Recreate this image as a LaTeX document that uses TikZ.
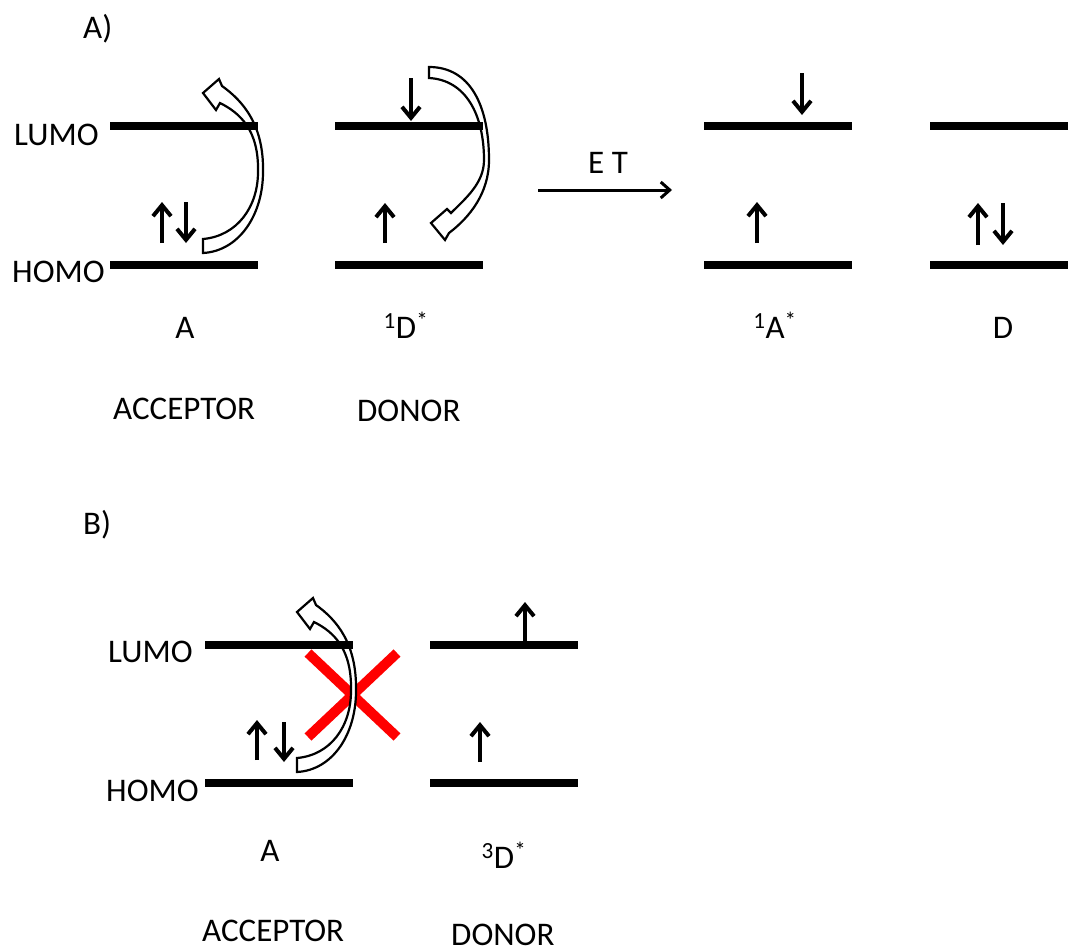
\documentclass[tikz,border=0pt]{standalone}
\usepackage{fontspec}
\setmainfont{Carlito}
\usetikzlibrary{arrows.meta}
\begin{document}
\begin{tikzpicture}[x=1pt,y=-1pt,
  level/.style={line width=8pt},
  spin/.style={line width=4pt,-{Straight Barb[length=11pt,width=18pt]}},
  hop/.style={draw=black,fill=white,line width=2.2pt,line join=miter,miter limit=8},
  lbl/.style={inner sep=0pt,font=\fontsize{33}{40}\selectfont},
  cross/.style={draw=red,line width=10pt},
  transfer/.style={line width=3pt,-{Straight Barb[length=9pt,width=16pt]}}]
\useasboundingbox (0,0) rectangle (1068,951);

% ---------- A) singlet energy transfer ----------
% electron hop inside the acceptor (HOMO -> LUMO)
\path[hop] (203,253) .. controls (239,251) and (263,215) .. (263,172)
  .. controls (264,125) and (243,101) .. (222,86)
  -- (219,79) -- (203,93) -- (216,110) -- (220,103)
  .. controls (240,113) and (259,130) .. (258,172)
  .. controls (258,207) and (237,236) .. (203,239) -- cycle;
% electron hop inside the donor (LUMO -> HOMO)
\path[hop] (429,67) .. controls (470,67) and (489,105) .. (489,160)
  .. controls (489,193) and (470,217) .. (449,233)
  -- (445,240) -- (431,223) -- (447,209) -- (451,213)
  .. controls (466,198) and (484,183) .. (484,160)
  .. controls (484,115) and (466,80) .. (429,78) -- cycle;

% frontier orbital levels
\draw[level] (110,126) -- (258,126);
\draw[level] (110,265) -- (258,265);
\draw[level] (335,126) -- (483,126);
\draw[level] (335,265) -- (483,265);
\draw[level] (704,126) -- (852,126);
\draw[level] (704,265) -- (852,265);
\draw[level] (930,126) -- (1068,126);
\draw[level] (930,265) -- (1068,265);

% electron spins
\draw[spin] (162,243) -- (162,202);
\draw[spin] (186,202) -- (186,243);
\draw[spin] (411,78) -- (411,121);
\draw[spin] (385,243) -- (385,203);
\draw[spin] (802,73) -- (802,115);
\draw[spin] (757,243) -- (757,202);
\draw[spin] (978,245) -- (978,203);
\draw[spin] (1003,203) -- (1003,245);

% labels
\node[lbl,anchor=base west] (tagA) at (83,38) {A)};
\node[lbl,anchor=base west] (lumoA) at (14,145) {LUMO};
\node[lbl,anchor=base west] (homoA) at (12,282) {HOMO};
\node[lbl,anchor=base] (nameA) at (185,338) {A};
\node[lbl,anchor=base] (nameD) at (406,338) {\textsuperscript{1}D\textsuperscript{*}};
\node[lbl,anchor=base] (nameAx) at (775,338) {\textsuperscript{1}A\textsuperscript{*}};
\node[lbl,anchor=base] (nameDg) at (1003,338) {D};
\node[lbl,anchor=base west] (accA) at (113,419) {ACCEPTOR};
\node[lbl,anchor=base west] (donA) at (357,421) {DONOR};
\node[lbl,anchor=base west] (et) at (588,173) {E T};

% energy transfer arrow
\coordinate (etL) at (538,190);
\coordinate (etR) at (672,190);
\draw[transfer] (etL) -- (etR);

% ---------- B) forbidden transfer from the triplet ----------
\draw[cross] (308,653) -- (397,737);
\draw[cross] (397,653) -- (308,737);

\begin{scope}[shift={(94,519)}]
\path[hop] (203,253) .. controls (239,251) and (262,215) .. (262,172)
  .. controls (263,125) and (243,101) .. (222,86)
  -- (219,79) -- (203,93) -- (216,110) -- (220,103)
  .. controls (240,113) and (258,130) .. (257,172)
  .. controls (257,207) and (237,236) .. (203,239) -- cycle;
\end{scope}

\draw[level] (205,645) -- (353,645);
\draw[level] (205,783) -- (353,783);
\draw[level] (430,645) -- (578,645);
\draw[level] (430,783) -- (578,783);

\draw[spin] (257,760) -- (257,720);
\draw[spin] (284,722) -- (284,762);
\draw[spin] (525,641) -- (525,602);
\draw[spin] (480,762) -- (480,722);

\node[lbl,anchor=base west] (tagB) at (83,534) {B)};
\node[lbl,anchor=base west] (lumoB) at (108,662) {LUMO};
\node[lbl,anchor=base west] (homoB) at (106,801) {HOMO};
\node[lbl,anchor=base] (nameAB) at (270,861) {A};
\node[lbl,anchor=base] (nameT) at (504,868) {\textsuperscript{3}D\textsuperscript{*}};
\node[lbl,anchor=base west] (accB) at (202,941) {ACCEPTOR};
\node[lbl,anchor=base west] (donB) at (451,945) {DONOR};
\end{tikzpicture}
\end{document}
